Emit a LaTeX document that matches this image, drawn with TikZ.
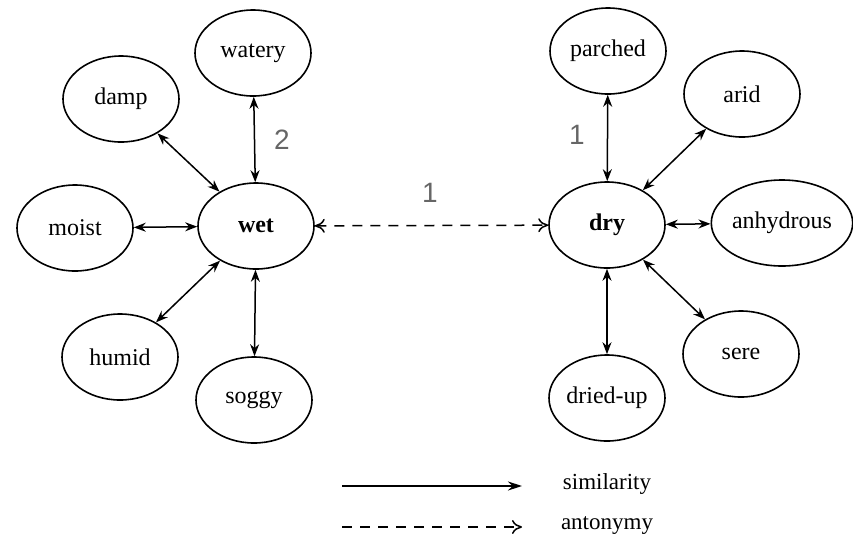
\documentclass[tikz,border=0pt]{standalone}
\usepackage{fontspec}
\setmainfont{Liberation Serif}
\newfontfamily\numfont{Liberation Sans}
\usetikzlibrary{shapes.geometric,arrows.meta}

\begin{document}
\begin{tikzpicture}[x=0.5pt,y=-0.5pt,
  word/.style={draw,ellipse,line width=0.8pt,inner sep=0pt,
    minimum width=58pt,minimum height=43pt,font=\fontsize{12}{14}\selectfont},
  head/.style={word,font=\fontsize{12}{14}\selectfont\bfseries},
  simil/.style={line width=0.75pt,{Stealth[length=6pt,width=4.5pt]}-{Stealth[length=6pt,width=4.5pt]}},
  anton/.style={line width=0.75pt,dashed,dash pattern=on 5pt off 4pt,{To[length=5pt,width=7pt]}-{To[length=5pt,width=7pt]}},
  dist/.style={font=\numfont\fontsize{14}{16}\selectfont,text=black!60}]
\useasboundingbox (0,0) rectangle (853,537);

% wet cluster
\node[head] (wet) at (256,226) {wet};
\node[word] (watery) at (253,53) {watery};
\node[word] (damp) at (121,99) {damp};
\node[word] (moist) at (75,228) {moist};
\node[word] (humid) at (120,357) {humid};
\node[word] (soggy) at (254,400) {soggy};

% dry cluster
\node[head] (dry) at (607,225) {dry};
\node[word] (parched) at (608,51) {parched};
\node[word] (arid) at (742,94) {arid};
\node[word] (anhydrous) at (782,223) {anhydrous};
\node[word] (sere) at (741,354) {sere};
\node[word] (driedup) at (607,398) {dried-up};

\draw[simil] (wet) -- (watery);
\draw[simil] (wet) -- (damp);
\draw[simil] (wet) -- (moist);
\draw[simil] (wet) -- (humid);
\draw[simil] (wet) -- (soggy);
\draw[simil] (dry) -- (parched);
\draw[simil] (dry) -- (arid);
\draw[simil] (dry) -- (anhydrous);
\draw[simil] (dry) -- (sere);
\draw[simil] (dry) -- (driedup);
\draw[anton] (wet) -- (dry);

\node[dist] (d1) at (282,140) {2};
\node[dist] (d2) at (430,193) {1};
\node[dist] (d3) at (577,135) {1};

% legend
\coordinate (simA) at (342,486);
\coordinate (simB) at (522,486);
\coordinate (antA) at (342,527);
\coordinate (antB) at (522,527);
\node[font=\fontsize{11.5}{14}\selectfont] (simtxt) at (607,484) {similarity};
\node[font=\fontsize{11.5}{14}\selectfont] (anttxt) at (607,525) {antonymy};
\draw[line width=0.75pt,-{Stealth[length=7pt,width=4.5pt]}] (simA) -- (simB);
\draw[line width=0.75pt,dashed,dash pattern=on 5pt off 4pt,-{To[length=5pt,width=7pt]}] (antA) -- (antB);
\end{tikzpicture}
\end{document}
